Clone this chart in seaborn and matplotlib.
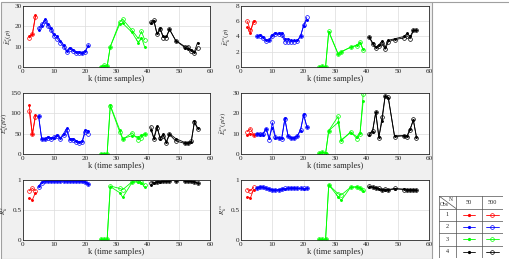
import matplotlib
matplotlib.use("Agg")
import matplotlib.pyplot as plt
import seaborn as sns
from matplotlib.patches import Rectangle
from matplotlib.lines import Line2D

# time samples of the four observation groups
K_RED = [2, 3, 4]
K_BLUE = list(range(5, 22))
K_GREEN = [25, 26, 27, 28, 31, 32, 35, 37, 38, 39]
K_BLACK = [41, 42, 43, 44, 45, 46, 47, 49, 52, 53, 54, 55, 56]
KS = [K_RED, K_BLUE, K_GREEN, K_BLACK]
COLORS = ["#ff0000", "#0000ff", "#00ff00", "#000000"]

# panel 1
p1_50 = [[15.2, 16, 25.5],
         [18, 20, 23.5, 21, 19, 16, 15, 13, 11, 8, 9.5, 8.5, 7.5, 7.5, 7, 8, 10.5],
         [0.2, 0.5, 0.3, 10, 21, 21.5, 17, 12, 14.5, 10],
         [21.5, 22.5, 16.5, 19, 15, 15, 18.5, 13, 9.5, 9, 8.5, 7.5, 12]]
p1_500 = [[14.3, 16, 24.7],
          [19, 21, 22.5, 20, 18, 15, 14, 12, 10, 7.5, 9, 8, 7, 7, 7, 7.5, 11],
          [0.2, 1, 0.3, 10, 22, 23.5, 18, 14, 17.5, 13.5],
          [22, 23, 16, 18.5, 14.5, 14.5, 18.5, 13, 10, 10, 8, 7, 9.5]]
# panel 2
p2_50 = [[5.2, 4.5, 6.0],
         [4.0, 4.2, 3.9, 3.5, 3.6, 4.2, 4.5, 4.4, 4.5, 3.7, 3.7, 3.5, 3.5, 3.5, 4.1, 5.4, 6.2],
         [0.05, 0.1, 0.05, 4.6, 1.7, 2.0, 2.6, 2.9, 3.2, 2.3],
         [3.9, 3.2, 2.6, 2.9, 3.4, 2.6, 3.5, 3.7, 4.0, 4.4, 4.0, 4.8, 4.8]]
p2_500 = [[6.0, 4.8, 5.9],
          [4.0, 4.1, 3.8, 3.4, 3.5, 4.0, 4.3, 4.3, 4.2, 3.3, 3.3, 3.3, 3.3, 3.4, 4.0, 5.5, 6.5],
          [0.05, 0.1, 0.05, 4.7, 1.7, 2.0, 2.6, 2.8, 3.3, 2.2],
          [3.9, 3.0, 2.5, 2.7, 3.1, 2.3, 3.3, 3.6, 3.8, 4.1, 3.7, 4.8, 4.8]]
# panel 3
p3_50 = [[120, 48, 97],
         [94, 37, 38, 42, 40, 40, 46, 40, 50, 63, 38, 38, 33, 30, 32, 60, 57],
         [1, 1, 1, 120, 60, 38, 45, 42, 46, 50],
         [60, 40, 68, 38, 48, 30, 50, 38, 28, 28, 30, 80, 65]]
p3_500 = [[105, 48, 92],
          [93, 36, 36, 40, 38, 42, 44, 38, 46, 58, 34, 34, 30, 27, 30, 55, 50],
          [1, 1, 1, 118, 55, 36, 52, 35, 40, 48],
          [67, 36, 65, 40, 45, 28, 48, 32, 26, 26, 32, 78, 62]]
# panel 4
p4_50 = [[9.5, 10, 9.5],
         [10, 9.5, 9.5, 12.5, 8, 13, 8, 8, 8, 17.5, 9, 8, 8, 9, 11.5, 19.5, 13.5],
         [0.5, 0.8, 0.3, 11.5, 15.5, 7, 10.5, 8.5, 10.5, 26],
         [9.5, 11, 20.5, 8.5, 16, 28.5, 27.5, 9, 9, 9, 12.5, 16.5, 8.5]]
p4_500 = [[11, 12.5, 9.5],
          [10, 10, 10, 12.5, 7, 15.5, 8.5, 8, 7.5, 17, 9, 8, 8, 9, 12, 19, 13.5],
          [0.3, 1, 0.2, 11.5, 18.5, 6.5, 11, 7.5, 10, 29.5],
          [10, 11.5, 20.5, 8, 18, 28.5, 28, 8.5, 9, 8.5, 12, 17, 8]]
# panel 5
p5_50 = [[0.70, 0.67, 0.79],
         [0.90, 0.96, 0.98, 0.99, 0.99, 0.99, 0.99, 0.99, 0.99, 0.99, 0.99, 0.99, 0.99, 0.99, 0.98, 0.97, 0.94],
         [0.01, 0.01, 0.01, 0.89, 0.79, 0.71, 0.96, 0.97, 0.95, 0.88],
         [0.92, 0.95, 0.97, 0.97, 0.98, 0.98, 0.99, 0.99, 0.99, 0.99, 0.98, 0.97, 0.95]]
p5_500 = [[0.82, 0.86, 0.82],
          [0.88, 0.95, 0.98, 0.99, 0.99, 0.99, 0.99, 0.99, 0.99, 0.99, 0.99, 0.99, 0.99, 0.98, 0.98, 0.96, 0.93],
          [0.01, 0.01, 0.01, 0.90, 0.86, 0.84, 0.97, 0.99, 0.96, 0.92],
          [0.95, 0.96, 0.97, 0.98, 0.98, 0.98, 0.99, 0.99, 0.99, 0.98, 0.98, 0.97, 0.95]]
# panel 6
p6_50 = [[0.72, 0.70, 0.84],
         [0.86, 0.89, 0.88, 0.86, 0.85, 0.84, 0.83, 0.84, 0.85, 0.85, 0.86, 0.86, 0.86, 0.86, 0.86, 0.85, 0.86],
         [0.01, 0.01, 0.01, 0.92, 0.72, 0.66, 0.88, 0.88, 0.87, 0.82],
         [0.89, 0.88, 0.86, 0.85, 0.83, 0.84, 0.83, 0.85, 0.85, 0.84, 0.84, 0.83, 0.83]]
p6_500 = [[0.84, 0.82, 0.88],
          [0.87, 0.88, 0.88, 0.86, 0.85, 0.84, 0.83, 0.84, 0.85, 0.86, 0.86, 0.87, 0.87, 0.86, 0.86, 0.86, 0.86],
          [0.01, 0.01, 0.01, 0.92, 0.77, 0.75, 0.88, 0.89, 0.87, 0.84],
          [0.90, 0.88, 0.87, 0.86, 0.84, 0.85, 0.84, 0.86, 0.84, 0.84, 0.83, 0.84, 0.83]]

YLABELS = [r"$\bar{E}_k^{c}(p)$", r"$\bar{E}_k^{cs}(p)$",
           r"$\bar{E}_k^{v}(p/s)$", r"$\bar{E}_k^{vs}(p/s)$",
           r"$R_k^{c}$", r"$R_k^{cs}$"]
YLIMS = [(0, 30), (0, 8), (0, 150), (0, 30), (0, 1), (0, 1)]
YTICKS = [[0, 10, 20, 30], [0, 2, 4, 6, 8], [0, 50, 100, 150], [0, 10, 20, 30],
          [0, 0.5, 1], [0, 0.5, 1]]
YTICKLABELS = [None, None, None, None, ["0", "0.5", "1"], ["0", "0.5", "1"]]
PANELS = [(p1_50, p1_500), (p2_50, p2_500), (p3_50, p3_500),
          (p4_50, p4_500), (p5_50, p5_500), (p6_50, p6_500)]
N_LABELS = ["50", "500"]
OBS = ["1", "2", "3", "4"]

sns.set_style("white")
plt.rcParams["font.family"] = ["Liberation Serif", "DejaVu Serif"]
plt.rcParams["mathtext.fontset"] = "stix"

W, H = 510, 259
fig = plt.figure(figsize=(W / 100, H / 100), dpi=100)
fig.patch.set_facecolor("white")
fig.add_artist(Rectangle((1.5 / W, 0), (432 - 1.5) / W, 1 - 2 / H,
                         transform=fig.transFigure, facecolor="#f0f0f0",
                         edgecolor="#a0a0a0", linewidth=0.8, zorder=0))
fig.add_artist(Line2D([432 / W, 1], [1 - 2 / H, 1 - 2 / H], transform=fig.transFigure,
                      color="#a0a0a0", linewidth=0.8, zorder=0))

lefts = [23, 241]
label_right = [14, 232, 10, 229, 10, 229]
tops = [6, 93, 180]
heights = [61, 61, 60]

for i, (s50, s500) in enumerate(PANELS):
    r, c = divmod(i, 2)
    x0 = lefts[c]
    w = 187 if c == 0 else 188
    y_top = tops[r]
    h = heights[r]
    ax = fig.add_axes([x0 / W, 1 - (y_top + h) / H, w / W, h / H])
    ax.set_facecolor("white")
    for k, v50, v500, col in zip(KS, s50, s500, COLORS):
        sns.lineplot(x=k, y=v50, ax=ax, color=col, marker="o", markersize=1.3,
                     markeredgecolor=col, markerfacecolor=col, linewidth=0.6)
        sns.lineplot(x=k, y=v500, ax=ax, color=col, marker="o", markersize=2.7,
                     markeredgecolor=col, markerfacecolor="none",
                     markeredgewidth=0.5, linewidth=0.6)
    ax.set_xlim(0, 60)
    ax.set_ylim(*YLIMS[i])
    ax.set_xticks(range(0, 61, 10))
    ax.set_yticks(YTICKS[i])
    if YTICKLABELS[i] is not None:
        ax.set_yticklabels(YTICKLABELS[i])
    ax.grid(True, color="#dcdcdc", linewidth=0.5)
    ax.tick_params(direction="in", length=2, width=0.5, labelsize=5.2,
                   pad=1.2, colors="#262626")
    for sp in ax.spines.values():
        sp.set_color("#262626")
        sp.set_linewidth(0.6)
    ax.set_xlabel("k (time samples)", fontsize=6, labelpad=1)
    ax.set_ylabel(YLABELS[i], fontsize=5)
    ax.yaxis.set_label_coords((label_right[i] - x0) / w, 0.5)

# legend table
tab = fig.add_axes([439 / W, 1 - 258 / H, 64 / W, 62 / H])
tab.set_xlim(0, 64)
tab.set_ylim(62, 0)
tab.axis("off")
col_x = [0, 17, 43, 64]
row_y = [0, 12.5, 24.5, 37, 49.5, 62]
for xx in col_x:
    tab.plot([xx, xx], [0, 62], color="#505050", linewidth=0.5)
for yy in row_y:
    tab.plot([0, 64], [yy, yy], color="#505050", linewidth=0.5)
tab.plot([0, 17], [0, 12.5], color="#505050", linewidth=0.5)
tab.text(12, 3.5, "N", fontsize=4, ha="center", va="center")
tab.text(5, 9, "Obs", fontsize=4, ha="center", va="center")
tab.text(30, 6.2, N_LABELS[0], fontsize=4.5, ha="center", va="center")
tab.text(53.5, 6.2, N_LABELS[1], fontsize=4.5, ha="center", va="center")
for j, (name, col) in enumerate(zip(OBS, COLORS)):
    yc = (row_y[j + 1] + row_y[j + 2]) / 2
    tab.text(8.5, yc, name, fontsize=4.5, ha="center", va="center")
    sns.lineplot(x=[24, 36], y=[yc, yc], ax=tab, color=col, linewidth=0.6)
    tab.plot([30], [yc], marker="o", markersize=1.3, color=col)
    sns.lineplot(x=[47, 60], y=[yc, yc], ax=tab, color=col, linewidth=0.6)
    tab.plot([53.5], [yc], marker="o", markersize=2.7, color=col,
             markerfacecolor="none", markeredgewidth=0.5)
tab.set_xlim(0, 64)
tab.set_ylim(62, 0)

fig.savefig("out.png", dpi=100)
